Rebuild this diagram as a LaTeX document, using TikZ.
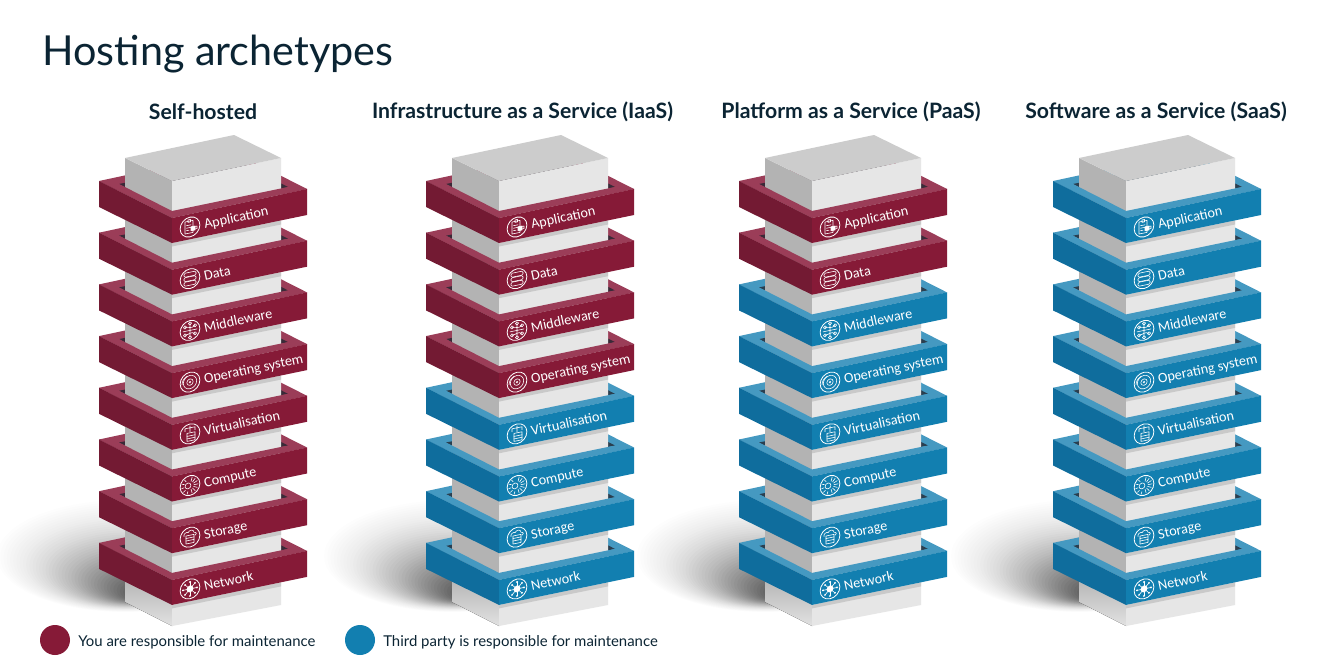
\documentclass[tikz,border=0pt]{standalone}
\usepackage{fontspec}
\setmainfont{Lato}
\newfontfamily\bandfont{Carlito}
\definecolor{inkc}{HTML}{0B2433}
\definecolor{mF}{HTML}{861A37}
\definecolor{mL}{HTML}{731A33}
\definecolor{mT}{HTML}{9B3D58}
\definecolor{mH}{HTML}{3A2A38}
\definecolor{bF}{HTML}{127FB0}
\definecolor{bL}{HTML}{0F6D9D}
\definecolor{bT}{HTML}{4599C1}
\definecolor{bH}{HTML}{2A3F50}
\definecolor{blkT}{HTML}{CCCCCC}
\definecolor{blkL}{HTML}{B3B3B3}
\definecolor{blkR}{HTML}{E6E6E6}
\definecolor{blkS}{HTML}{C9C9C9}
\tikzset{
  titletext/.style={anchor=base west,inner sep=0pt,text=inkc,font=\fontsize{31pt}{34pt}\selectfont},
  headtext/.style={inner sep=0pt,text=inkc,font=\bfseries\fontsize{15.9pt}{18pt}\selectfont},
  legtext/.style={anchor=west,inner sep=0pt,text=inkc,font=\fontsize{11.2pt}{14pt}\selectfont},
  bandtext/.style={anchor=west,inner sep=0pt,rotate=12,text=white,text height=8pt,text depth=2pt,font=\bandfont\fontsize{10.7pt}{13pt}\selectfont},
  icn/.style={draw=white,line width=0.45pt,line cap=round,line join=round},
}
\newcommand\iconApp{%
  \draw[icn] (-5,-6) rectangle (3,6);
  \draw[icn] (-2,-7.5) rectangle (0.5,-5);
  \draw[icn] (-3.5,-2)--(1,-2) (-3.5,0.5)--(1,0.5) (-3.5,3)--(-1,3);
  \draw[icn,fill=white] (1,0) rectangle (5,4);
  \draw[icn] (5,0.5)--(7,0.5)--(7,3)--(5,3);
}
\newcommand\iconData{%
  \draw[icn,rounded corners=1pt] (-6,-6.5) rectangle (6,-2.5);
  \draw[icn,rounded corners=1pt] (-6,-2) rectangle (6,2);
  \draw[icn,rounded corners=1pt] (-6,2.5) rectangle (6,6.5);
}
\newcommand\iconMid{%
  \foreach \a/\b in {-5/-4,5/-4,-5/4,5/4,0/-7,0/7}{\draw[icn] (\a,\b) circle[radius=1.2pt];}
  \draw[icn] (-5,-4)..controls (-1,-4) and (1,-1)..(5,-4);
  \draw[icn] (-5,4)..controls (-1,4) and (1,1)..(5,4);
  \draw[icn] (0,-7)--(0,7) (-7,0)--(7,0);
}
\newcommand\iconOS{%
  \draw[icn] (0,0) circle[radius=5pt];
  \draw[icn] (0,0) circle[radius=2.4pt];
  \fill[white] (0,0) circle[radius=0.9pt];
  \draw[icn] (-8,1) arc[start angle=180,end angle=110,radius=6pt];
}
\newcommand\iconVirt{%
  \draw[icn] (0,-8)--(0,-2) (-5,-6)--(5,-6) (-5,-6)--(-5,-3) (5,-6)--(5,-3);
  \draw[icn] (-3,-1) rectangle (5,7);
  \draw[icn] (-3,2)--(5,2) (-3,4.5)--(5,4.5);
}
\newcommand\iconComp{%
  \draw[icn] (-2,0) circle[radius=2.2pt];
  \foreach \a in {-75,-50,...,75}{\draw[icn] (\a:4)--(\a:8);}
  \foreach \a in {110,140,...,250}{\draw[icn] (\a:6)--(\a:8.5);}
}
\newcommand\iconStor{%
  \draw[icn] (-6,-2)..controls (-7,-5) and (-3,-6)..(-2,-5)..controls (0,-8) and (4,-7)..(4,-4)..controls (7,-4) and (7,-1)..(5,-1);
  \draw[icn,fill=mid] (-4,-2) rectangle (4,6);
  \draw[icn] (-4,0.5)--(4,0.5) (-4,3)--(4,3);
}
\newcommand\iconNet{%
  \fill[white] (0,0) circle[radius=2.6pt];
  \foreach \a in {0,45,...,315}{\draw[icn] (\a:3)--(\a:6.8); \fill[white] (\a:7) circle[radius=0.8pt];}
}
\newcommand\towerdraw[2]{%
  \begin{scope}[shift={(#1,0)}]
    % soft ground shadow
    \foreach \k in {0,...,39}{
      \pgfmathsetmacro\tt{\k/39}
      \pgfmathsetmacro\cx{125+10*\tt}
      \pgfmathsetmacro\cy{556+36*\tt}
      \pgfmathsetmacro\rx{(128-116*\tt)*0.75}
      \pgfmathsetmacro\ry{(56-48*\tt)*0.75}
      \pgfmathsetmacro\op{0.006+0.035*\tt^1.5}
      \fill[black,opacity=\op] (\cx,\cy) ellipse[x radius=\rx pt,y radius=\ry pt];
    }
    % back of the bands
    \foreach \i in {7,6,...,0}{
      \pgfmathsetmacro\dy{51.7*\i}
      \ifnum\i<#2 \colorlet{cT}{mT}\colorlet{cH}{mH}\else\colorlet{cT}{bT}\colorlet{cH}{bH}\fi
      \begin{scope}[shift={(0,\dy)}]
        \fill[cT] (99,181)--(234,152)--(307,189)--(172,218)--cycle;
        \fill[cH] (119,184)--(235,160)--(288,187)--(172,211)--cycle;
      \end{scope}
    }
    % central block
    \fill[blkL] (125,158)--(172,181)--(172,600)--(125,580)--cycle;
    \fill[top color=blkL,bottom color=blkR!90!blkL] (125,575)--(172,598)--(172,626)--(125,602)--cycle;
    \fill[blkR] (172,181)--(281,158)--(281,605)--(172,626)--cycle;
    \fill[blkT] (125,158)--(234,135)--(281,158)--(172,181)--cycle;
    % front of the bands
    \foreach \i/\lab/\ic in {7/Network/iconNet,6/Storage/iconStor,5/Compute/iconComp,4/Virtualisation/iconVirt,3/Operating system/iconOS,2/Middleware/iconMid,1/Data/iconData,0/Application/iconApp}{
      \pgfmathsetmacro\dy{51.7*\i}
      \ifnum\i<#2 \colorlet{cT}{mT}\colorlet{cF}{mF}\colorlet{cL}{mL}\colorlet{mid}{mF}\else\colorlet{cT}{bT}\colorlet{cF}{bF}\colorlet{cL}{bL}\colorlet{mid}{bF}\fi
      \begin{scope}[shift={(0,\dy)}]
        \fill[blkS] (172,243)--(281,220.5)--(281,224.5)--(172,246.5)--cycle;
        \fill[cT] (99,181)--(119,184)--(172,211)--(288,187)--(307,189)--(172,218)--cycle;
        \fill[cL] (99,181)--(172,218)--(172,243)--(99,207)--cycle;
        \fill[cF] (172,218)--(307,189)--(307,215)--(172,243)--cycle;
        \begin{scope}[shift={(190,227)},yslant=0.21]
          \draw[icn,line width=0.6pt] (0,0) circle[radius=7.4pt];
          \csname\ic\endcsname
        \end{scope}
        \node[bandtext] (lab#1-\i) at (204,225) {\lab};
      \end{scope}
    }
  \end{scope}
}
\begin{document}
\begin{tikzpicture}[x=0.75pt,y=-0.75pt]
  \useasboundingbox (0,0) rectangle (1320,667);
  \fill[white] (0,0) rectangle (1320,667);
  \towerdraw{0}{8}
  \towerdraw{327}{4}
  \towerdraw{640}{2}
  \towerdraw{954}{0}
  \node[titletext] (title) at (42,66) {Hosting archetypes};
  \node[headtext] (h1) at (203,111.5) {Self-hosted};
  \node[headtext] (h2) at (522.5,111.5) {Infrastructure as a Service (IaaS)};
  \node[headtext] (h3) at (851,111.5) {Platform as a Service (PaaS)};
  \node[headtext] (h4) at (1156,111.5) {Software as a Service (SaaS)};
  \fill[mF] (55,640) circle[radius=11.25pt];
  \node[legtext] (l1) at (78,642.5) {You are responsible for maintenance};
  \fill[bF] (360,640) circle[radius=11.25pt];
  \node[legtext] (l2) at (383,642.5) {Third party is responsible for maintenance};
\end{tikzpicture}
\end{document}
